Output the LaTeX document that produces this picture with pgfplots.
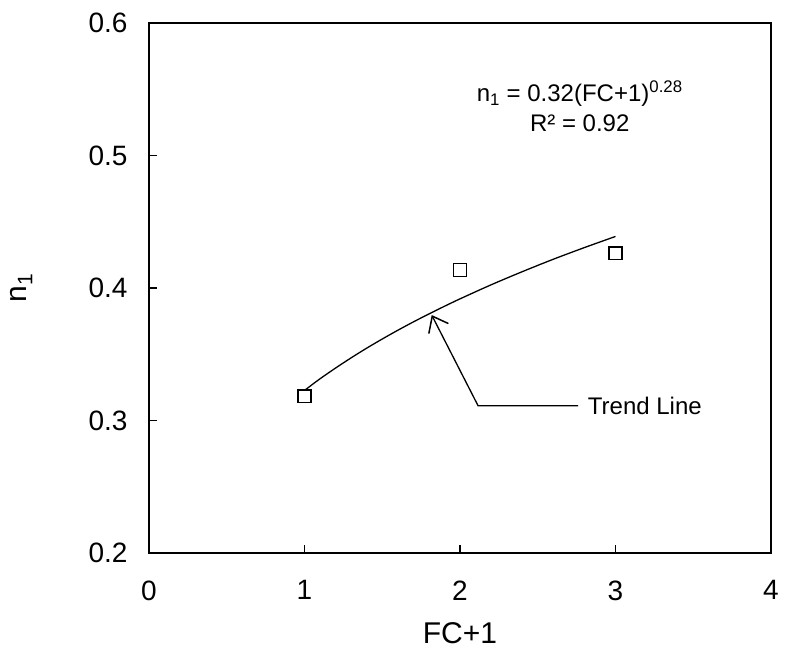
\documentclass[border=0pt]{standalone}
\usepackage{pgfplots}
\pgfplotsset{compat=1.18}
\usepackage{fontspec}
\setmainfont{Liberation Sans}
\usetikzlibrary{arrows.meta}

\begin{document}
\begin{tikzpicture}
\begin{axis}[
  scale only axis, width=622pt, height=530pt,
  at={(0,0)}, anchor=south west,
  xmin=0, xmax=4, ymin=0.2, ymax=0.6,
  xtick={0,1,2,3,4}, xticklabels={0,1,2,3,4},
  ytick={0.2,0.3,0.4,0.5,0.6}, yticklabels={0.2,0.3,0.4,0.5,0.6},
  tick pos=left, tick align=inside, major tick length=8pt,
  axis line style={line width=1.8pt},
  tick style={line width=1.2pt, black},
  ticklabel style={font=\fontsize{28}{34}\selectfont},
  xticklabel style={yshift=-24pt},
  yticklabel style={xshift=-18pt},
  xlabel={FC+1}, ylabel={n\textsubscript{1}},
  label style={font=\fontsize{30}{36}\selectfont},
  xlabel style={at={(axis description cs:0.5,-0.152)}, anchor=center},
  ylabel style={at={(axis description cs:-0.205,0.5)}, anchor=center},
]
\addplot[black, line width=1.3pt, smooth] coordinates {
  (1.0,0.3227) (1.1,0.3315) (1.2,0.3396) (1.3,0.3473) (1.4,0.3546)
  (1.5,0.3615) (1.6,0.3681) (1.7,0.3744) (1.8,0.3804) (1.9,0.3862)
  (2.0,0.3918) (2.2,0.4024) (2.4,0.4123) (2.6,0.4217) (2.8,0.4305)
  (3.0,0.4389)
};
\addplot[only marks, mark=square*, mark size=6.3pt,
  mark options={fill=white, draw=black, line width=1.5pt}] coordinates {
  (1,0.3184) (2,0.4136) (3,0.4262)
};
\draw[line width=1.3pt, -{Straight Barb[length=14pt,width=22pt,line width=1.5pt]}]
  (axis cs:2.759,0.3112) -- (axis cs:2.116,0.3112) -- (axis cs:1.818,0.3796);
\node[anchor=west, font=\fontsize{24}{28}\selectfont] at (axis cs:2.80,0.3112) {Trend Line};
\node[align=center, font=\fontsize{24}{30}\selectfont] at (axis cs:2.77,0.537)
  {n\textsubscript{1} = 0.32(FC+1)\textsuperscript{0.28}\\R² = 0.92};
\end{axis}
\path (-149pt,-106pt) rectangle (636pt,553pt);
\end{tikzpicture}
\end{document}
